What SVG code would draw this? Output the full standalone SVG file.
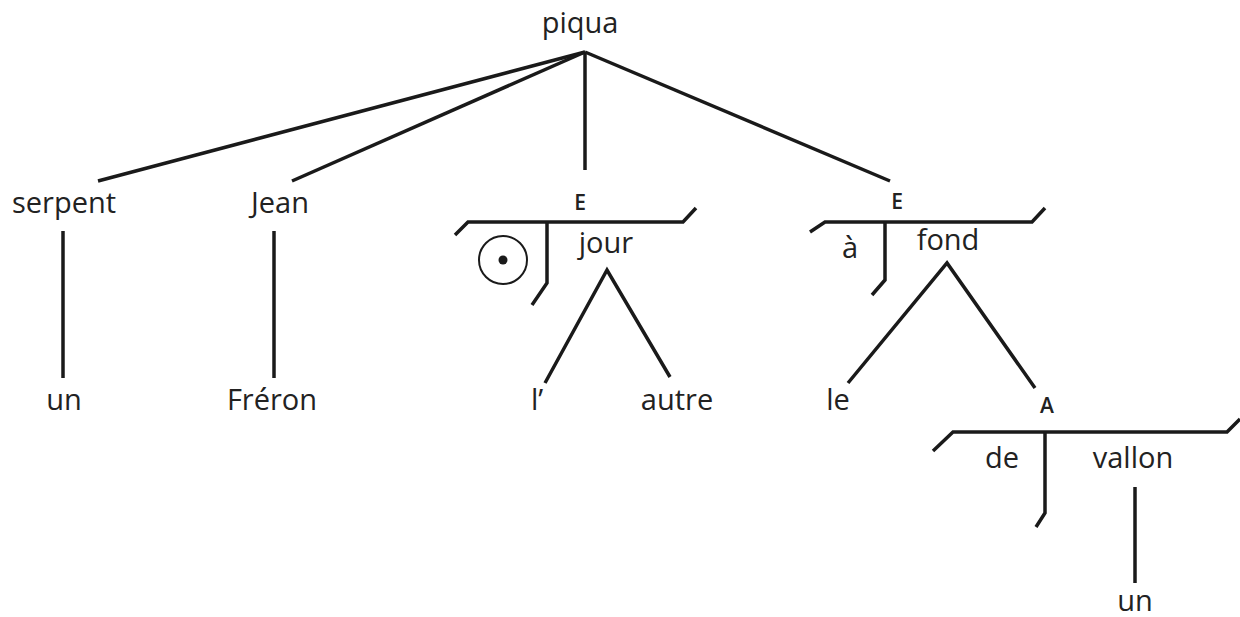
<svg xmlns="http://www.w3.org/2000/svg" width="1240" height="617" viewBox="0 0 1240 617">
<style>
.w{font-family:"Open Sans","DejaVu Sans",sans-serif;font-size:29px;fill:#222;text-anchor:middle}
.s{font-family:"Open Sans","DejaVu Sans",sans-serif;font-size:21px;font-weight:600;fill:#222;text-anchor:middle}
.l{stroke:#1a1a1a;stroke-width:3.5;fill:none;stroke-linecap:butt;stroke-linejoin:miter}
</style>
<rect width="1240" height="617" fill="#fff"/>
<g id="connectors" class="l">
<path d="M585 52 L98 181"/>
<path d="M585 52 L292 181"/>
<path d="M585 52 L585 170"/>
<path d="M585 52 L890 181"/>
<path d="M63 231 L63 378"/>
<path d="M274 231 L274 378"/>
<path d="M545 383 L607 270 L670 377"/>
<path d="M848 383 L947 263 L1035 388"/>
<path d="M1135 487 L1135 583"/>
</g>
<g id="n-piqua"><text class="w" x="580" y="33">piqua</text></g>
<g id="n-serpent"><text class="w" x="64" y="213">serpent</text></g>
<g id="n-un1"><text class="w" x="64" y="410">un</text></g>
<g id="n-jean"><text class="w" x="280" y="213">Jean</text></g>
<g id="n-freron"><text class="w" x="272" y="410">Fréron</text></g>
<g id="n-e1">
<text class="s" x="580" y="210">E</text>
<path class="l" d="M455 235 L468 222 L683 222 L696 208"/>
<path class="l" d="M547 222 L547 283 L532 305"/>
<circle cx="503" cy="260" r="24" fill="none" stroke="#1a1a1a" stroke-width="2"/>
<circle cx="503" cy="260" r="4.5" fill="#1a1a1a"/>
</g>
<g id="n-jour"><text class="w" x="606" y="253">jour</text></g>
<g id="n-l"><text class="w" x="537" y="410">l’</text></g>
<g id="n-autre"><text class="w" x="677" y="410">autre</text></g>
<g id="n-e2">
<text class="s" x="897" y="209">E</text>
<path class="l" d="M810 232 L825 222 L1032 222 L1045 208"/>
<path class="l" d="M885 222 L885 280 L872 295"/>
</g>
<g id="n-a"><text class="w" x="850" y="258">à</text></g>
<g id="n-fond"><text class="w" x="948" y="250">fond</text></g>
<g id="n-le"><text class="w" x="838" y="410">le</text></g>
<g id="n-A">
<text class="s" x="1047" y="413">A</text>
<path class="l" d="M933 451 L953 432 L1227 432 L1240 419"/>
<path class="l" d="M1045 432 L1045 513 L1036 527"/>
</g>
<g id="n-de"><text class="w" x="1002" y="468">de</text></g>
<g id="n-vallon"><text class="w" x="1133" y="468">vallon</text></g>
<g id="n-un2"><text class="w" x="1135" y="611">un</text></g>
</svg>
